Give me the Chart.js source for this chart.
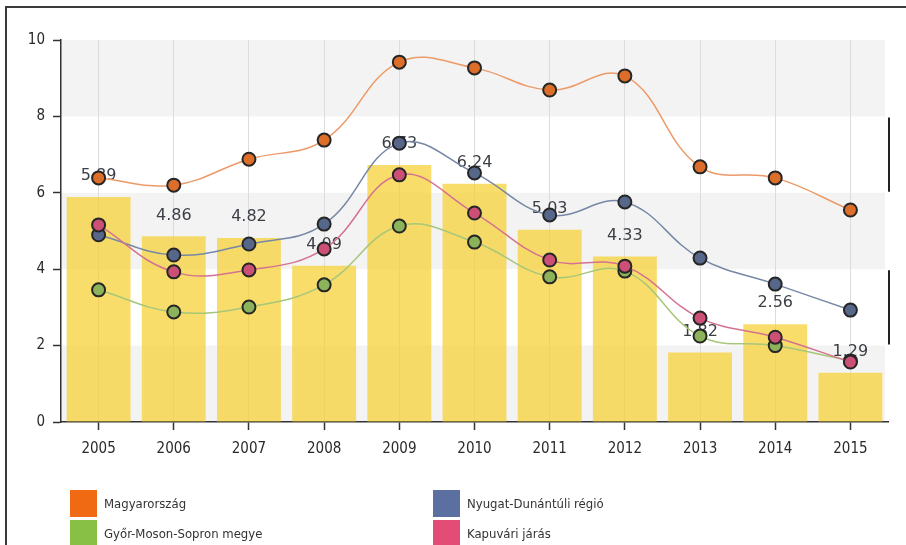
<!DOCTYPE html>
<html>
<head>
<meta charset="utf-8">
<script src="https://cdn.jsdelivr.net/npm/chart.js@4.4.1/dist/chart.umd.min.js"></script>
<style>
  html, body { margin: 0; padding: 0; background: #fff; }
  #wrap { position: relative; width: 906px; height: 545px; overflow: hidden; }
  #frame { position: absolute; left: 5px; top: 6px; width: 920px; height: 600px;
           border-top: 2px solid #3a3a3a; border-left: 2px solid #3a3a3a; pointer-events: none; }
  canvas { position: absolute; left: 0; top: 0; }
  .lg { position: absolute; font-family: "DejaVu Sans Condensed", "DejaVu Sans", sans-serif;
        font-size: 13px; color: #333; display: flex; align-items: center; }
  .lg span.sw { display: inline-block; width: 27px; height: 27px; margin-right: 7px; }
</style>
</head>
<body>
<div id="wrap">
  <canvas id="c" width="906" height="545"></canvas>
  <div id="frame"></div>
  <div id="legend"></div>
</div>
<script>
const years = ['2005','2006','2007','2008','2009','2010','2011','2012','2013','2014','2015'];
const barValues = [5.89, 4.86, 4.82, 4.09, 6.73, 6.24, 5.03, 4.33, 1.82, 2.56, 1.29];
const magyarorszag = [6.39, 6.20, 6.88, 7.38, 9.42, 9.27, 8.69, 9.06, 6.68, 6.39, 5.55];
const nyugatDunantul = [4.90, 4.37, 4.66, 5.18, 7.30, 6.52, 5.42, 5.76, 4.29, 3.61, 2.93];
const gyorMosonSopron = [3.46, 2.88, 3.01, 3.59, 5.13, 4.71, 3.80, 3.95, 2.25, 2.00, 1.60];
const kapuvari = [5.16, 3.93, 3.98, 4.53, 6.47, 5.47, 4.24, 4.08, 2.72, 2.22, 1.57];
const seriesNames = ['Magyarország', 'Nyugat-Dunántúli régió', 'Győr-Moson-Sopron megye', 'Kapuvári járás'];
const yTicks = [0, 2, 4, 6, 8, 10];

const FONT = '"DejaVu Sans Condensed", "DejaVu Sans", sans-serif';

function lineDs(label, data, line, fill, order) {
  return {
    type: 'line', label, data, order,
    borderColor: line, borderWidth: 1.5, tension: 0.4, fill: false,
    pointRadius: 6.5, pointHoverRadius: 6.5, pointBackgroundColor: fill,
    pointBorderColor: '#262626', pointBorderWidth: 2
  };
}

const bandPlugin = {
  id: 'bands',
  beforeDraw(chart) {
    const { ctx, chartArea: a, scales: { y } } = chart;
    ctx.save();
    ctx.fillStyle = '#f3f3f3';
    for (let i = 0; i < yTicks.length - 1; i++) {
      if (i % 2 === 0) {
        const t = y.getPixelForValue(yTicks[i + 1]), b = y.getPixelForValue(yTicks[i]);
        ctx.fillRect(a.left, t, a.right - a.left - 3, b - t);
      }
    }
    ctx.restore();
  },
  afterDraw(chart) {
    const { ctx, chartArea: a, scales: { y } } = chart;
    ctx.save();
    ctx.strokeStyle = '#222';
    ctx.lineWidth = 2;
    for (let i = 0; i < yTicks.length - 1; i++) {
      if (i % 2 === 1) {
        const t = y.getPixelForValue(yTicks[i + 1]), b = y.getPixelForValue(yTicks[i]);
        ctx.beginPath();
        ctx.moveTo(a.right + 1, t + 1);
        ctx.lineTo(a.right + 1, b - 1);
        ctx.stroke();
      }
    }
    ctx.restore();
  }
};

const labelPlugin = {
  id: 'barLabels',
  afterDatasetDraw(chart, args) {
    if (args.index !== 0) return;
    const { ctx } = chart;
    const meta = chart.getDatasetMeta(0);
    ctx.save();
    ctx.font = '16px "DejaVu Sans", sans-serif';
    ctx.fillStyle = '#3c4046';
    ctx.textAlign = 'center';
    ctx.textBaseline = 'middle';
    meta.data.forEach((el, i) => {
      ctx.fillText(barValues[i].toFixed(2), el.x, el.y - 21);
    });
    ctx.restore();
  }
};

const chart = new Chart(document.getElementById('c'), {
  type: 'bar',
  data: {
    labels: years,
    datasets: [
      { type: 'bar', label: 'bar', data: barValues, order: 10,
        backgroundColor: 'rgba(247,208,50,0.72)', borderWidth: 0,
        barPercentage: 0.85, categoryPercentage: 1.0 },
      lineDs(seriesNames[0], magyarorszag, '#ec9a68', '#dc6e2a', 4),
      lineDs(seriesNames[1], nyugatDunantul, '#7688a6', '#56678a', 3),
      lineDs(seriesNames[2], gyorMosonSopron, '#a6c77a', '#8cb35a', 2),
      lineDs(seriesNames[3], kapuvari, '#d4728f', '#cc4f76', 1)
    ]
  },
  options: {
    responsive: false,
    animation: false,
    devicePixelRatio: 1,
    layout: { padding: { top: 40, right: 18, left: 0, bottom: 0 } },
    plugins: { legend: { display: false }, tooltip: { enabled: false } },
    scales: {
      x: {
        offset: true,
        grid: { offset: false, color: '#dcdcdc', lineWidth: 1, drawTicks: true, tickLength: 8, tickColor: '#333', tickWidth: 1.5 },
        border: { color: '#333', width: 1.5 },
        ticks: { color: '#2a2a2a', font: { family: FONT, size: 15 }, padding: 10 },
        afterFit(s) { s.height = 123; }
      },
      y: {
        min: 0, max: 10,
        afterBuildTicks(s) { s.ticks = yTicks.map(v => ({ value: v })); },
        grid: { drawOnChartArea: false, drawTicks: true, tickLength: 8, tickColor: '#333', tickWidth: 1.5 },
        border: { color: '#333', width: 1.5 },
        ticks: { color: '#2a2a2a', font: { family: FONT, size: 15 }, padding: 8 },
        afterFit(s) { s.width = 61; }
      }
    }
  },
  plugins: [bandPlugin, labelPlugin]
});

// HTML legend
const legendColors = ['#f06a14', '#5b6fa0', '#88c046', '#e44c78'];
const legendPos = [[70, 490], [433, 490], [70, 520], [433, 520]];
const lg = document.getElementById('legend');
seriesNames.forEach((name, i) => {
  const d = document.createElement('div');
  d.className = 'lg';
  d.style.left = legendPos[i][0] + 'px';
  d.style.top = legendPos[i][1] + 'px';
  d.innerHTML = '<span class="sw" style="background:' + legendColors[i] + '"></span>' + name;
  lg.appendChild(d);
});
</script>
</body>
</html>
